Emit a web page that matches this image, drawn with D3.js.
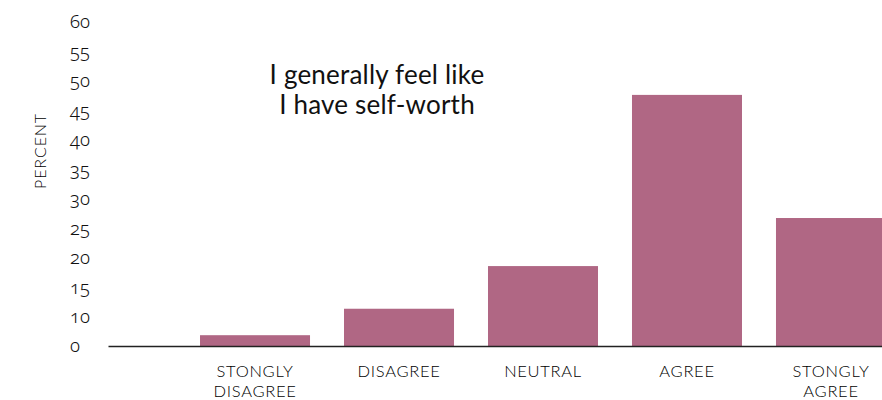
<!DOCTYPE html>
<html>
<head>
<meta charset="utf-8">
<script src="https://cdn.jsdelivr.net/npm/d3@7"></script>
<style>
  html, body { margin: 0; padding: 0; background: #fff; }
  svg { display: block; font-family: Lato, "Open Sans", sans-serif; }
  .num { font-variant-numeric: oldstyle-nums; font-feature-settings: "onum" 1; }
</style>
</head>
<body>
<svg id="chart" width="882" height="400"></svg>
<script>
// Survey responses (percent of respondents)
const categories = ["STONGLY DISAGREE", "DISAGREE", "NEUTRAL", "AGREE", "STONGLY AGREE"];
const percents = [2.0, 6.9, 14.8, 46.5, 23.7];
// Labels printed along the vertical axis, evenly spaced
const yTickLabels = ["0", "10", "15", "20", "25", "30", "35", "40", "45", "50", "55", "60"];
const titleLines = ["I generally feel like", "I have self-worth"];
const yAxisTitle = "PERCENT";

const svg = d3.select("#chart");
const baseY = 346, topY = 22;
const barColor = "#b06784";
const ink = "#111";

const x = d3.scaleBand()
  .domain(categories)
  .range([108, 978])
  .paddingInner(0.236)
  .paddingOuter(0.639);

const y = d3.scaleLinear().domain([0, 60]).range([baseY, topY]);

// evenly spaced tick labels on the left
const yLab = d3.scalePoint().domain(yTickLabels).range([baseY, topY]);

// bars
svg.append("g")
  .selectAll("rect")
  .data(percents)
  .join("rect")
  .attr("x", (d, i) => x(categories[i]))
  .attr("width", x.bandwidth())
  .attr("y", d => y(d))
  .attr("height", d => y(0) - y(d))
  .attr("fill", barColor);

// baseline axis with wrapped category labels
const xAxis = svg.append("g")
  .attr("transform", `translate(0,${baseY})`)
  .call(d3.axisBottom(x).tickSize(0).tickPadding(0));
xAxis.select(".domain").attr("stroke", "#222").attr("stroke-width", 1.6);
xAxis.selectAll(".tick text").remove();
xAxis.selectAll(".tick").each(function (d) {
  const words = d.split(" ");
  const t = d3.select(this).append("text")
    .attr("fill", "#000")
    .attr("text-anchor", "middle")
    .attr("font-size", 16.5)
    .attr("font-weight", 300)
    .attr("letter-spacing", 0.7)
    .attr("font-family", "Lato, sans-serif");
  words.forEach((w, i) => {
    t.append("tspan").attr("x", 0).attr("y", 31 + i * 20).text(w);
  });
});

// vertical tick labels, no axis line
const yAxis = svg.append("g")
  .attr("transform", "translate(70,0)")
  .call(d3.axisRight(yLab).tickSize(0).tickPadding(0));
yAxis.select(".domain").remove();
yAxis.selectAll(".tick text")
  .attr("class", "num")
  .attr("fill", ink)
  .attr("font-size", 18.5)
  .attr("font-weight", 300)
  .attr("font-family", "'Noto Sans', 'Open Sans', sans-serif")
  .attr("dy", "0.32em");

// axis title
svg.append("text")
  .attr("transform", "translate(46,151) rotate(-90)")
  .attr("text-anchor", "middle")
  .attr("fill", "#000")
  .attr("font-size", 16)
  .attr("font-weight", 300)
  .attr("letter-spacing", 0.9)
  .text(yAxisTitle);

// chart title
svg.append("g")
  .selectAll("text")
  .data(titleLines)
  .join("text")
  .attr("x", 377)
  .attr("y", (d, i) => 84 + i * 30)
  .attr("text-anchor", "middle")
  .attr("fill", ink)
  .attr("font-size", 26)
  .attr("letter-spacing", 0.2)
  .text(d => d);
</script>
</body>
</html>
